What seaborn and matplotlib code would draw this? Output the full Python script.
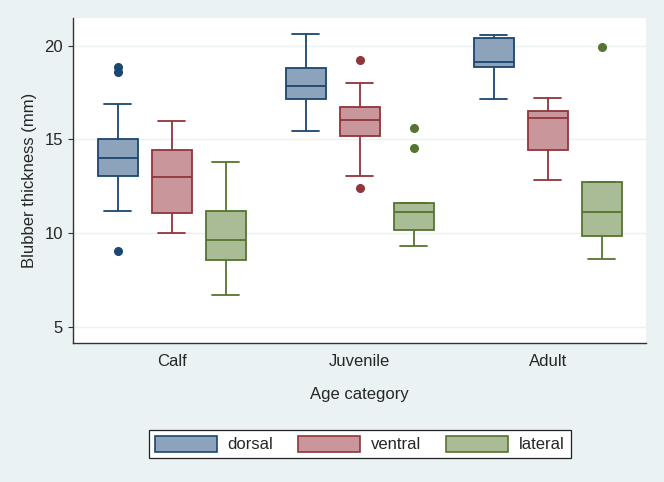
import numpy as np
import pandas as pd
import matplotlib
matplotlib.use("Agg")
import matplotlib.pyplot as plt
from matplotlib.patches import Patch
import seaborn as sns

groups = ["Calf", "Juvenile", "Adult"]
sites = ["dorsal", "ventral", "lateral"]

# box statistics (per age group)
dorsal_low = [11.2, 15.43, 17.14]
dorsal_q1 = [13.05, 17.17, 18.86]
dorsal_med = [14.03, 17.83, 19.13]
dorsal_q3 = [15.0, 18.83, 20.43]
dorsal_high = [16.91, 20.6, 20.55]
dorsal_out = [[9.05, 18.61, 18.88], [], []]

ventral_low = [10.01, 13.03, 12.84]
ventral_q1 = [11.06, 15.2, 14.46]
ventral_med = [13.02, 16.05, 16.13]
ventral_q3 = [14.42, 16.71, 16.52]
ventral_high = [16.0, 17.99, 17.21]
ventral_out = [[], [12.43, 19.22], []]

lateral_low = [6.72, 9.34, 8.63]
lateral_q1 = [8.57, 10.17, 9.87]
lateral_med = [9.64, 11.13, 11.13]
lateral_q3 = [11.2, 11.61, 12.73]
lateral_high = [13.8, 11.61, 12.73]
lateral_out = [[], [14.53, 15.61], [19.93]]

fill_colors = {"dorsal": "#8DA3BC", "ventral": "#C8969B", "lateral": "#AABC95"}
edge_colors = {"dorsal": "#1A476F", "ventral": "#90353B", "lateral": "#55752F"}

stats = {
    "dorsal": (dorsal_low, dorsal_q1, dorsal_med, dorsal_q3, dorsal_high, dorsal_out),
    "ventral": (ventral_low, ventral_q1, ventral_med, ventral_q3, ventral_high, ventral_out),
    "lateral": (lateral_low, lateral_q1, lateral_med, lateral_q3, lateral_high, lateral_out),
}

# Build a sample per box whose quartiles / whiskers / outliers equal the read statistics
rows = []
for site in sites:
    lo, q1, md, q3, hi, out = stats[site]
    for i, g in enumerate(groups):
        vals = list(out[i]) + [lo[i], hi[i]] + [q1[i]] * 10 + [md[i]] * 10 + [q3[i]] * 10
        for v in vals:
            rows.append({"age": g, "site": site, "mm": v})
df = pd.DataFrame(rows)

sns.set_style("white")
plt.rcParams["font.family"] = ["Liberation Sans", "DejaVu Sans"]

bg = "#EAF2F3"
fig = plt.figure(figsize=(6.64, 4.82), dpi=100, facecolor=bg)
ax = fig.add_axes([0.1104, 0.2878, 0.8625, 0.6755])
ax.set_facecolor("white")

for site in sites:
    sub = df[df["site"] == site]
    sns.boxplot(
        data=sub, x="age", y="mm", hue="site", order=groups, hue_order=sites,
        palette=fill_colors, saturation=1, dodge=True, width=0.862, gap=0.26,
        linecolor=edge_colors[site], linewidth=1.3, whis=1.5, legend=False,
        flierprops=dict(marker="o", markersize=5.5, markerfacecolor=edge_colors[site],
                        markeredgecolor=edge_colors[site]),
        ax=ax, zorder=3,
    )

# cap widths: two thirds of box width
for cont in ax.containers:
    try:
        boxes = list(cont.boxes)
        caps = list(cont.caps)
        for i, box in enumerate(boxes):
            xs = box.get_path().vertices[:, 0]
            w = xs.max() - xs.min()
            for cap in caps[2 * i:2 * i + 2]:
                xd = np.asarray(cap.get_xdata(), dtype=float)
                c = xd.mean()
                cap.set_xdata([c - w / 3, c + w / 3])
    except Exception:
        pass

ax.set_xlim(-0.524, 2.523)
ax.set_ylim(4.13, 21.49)
ax.set_yticks([5, 10, 15, 20])
ax.yaxis.grid(True, color=bg, linewidth=1.0, zorder=0)
ax.set_axisbelow(True)

for s in ["top", "right"]:
    ax.spines[s].set_visible(False)
for s in ["left", "bottom"]:
    ax.spines[s].set_color("#333333")
    ax.spines[s].set_linewidth(1.0)

ax.tick_params(axis="y", length=3.6, width=0.8, color="#333333", pad=4, labelsize=12, left=True)
ax.tick_params(axis="x", length=0, pad=8, labelsize=12)
ax.set_xlabel("Age category", fontsize=12, labelpad=13)
ax.set_ylabel("Blubber thickness (mm)", fontsize=12, labelpad=5)

handles = [Patch(facecolor=fill_colors[s], edgecolor=edge_colors[s], linewidth=1.2, label=s) for s in sites]
leg = fig.legend(handles=handles, loc="center", bbox_to_anchor=(0.542, 0.079), ncol=3,
                 fontsize=12, frameon=True, fancybox=False, framealpha=1, edgecolor="#222222",
                 handlelength=3.7, handleheight=1.1, handletextpad=0.66, columnspacing=1.5,
                 borderpad=0.35)
leg.get_frame().set_linewidth(0.9)

fig.savefig("out.png", dpi=100, facecolor=bg)
